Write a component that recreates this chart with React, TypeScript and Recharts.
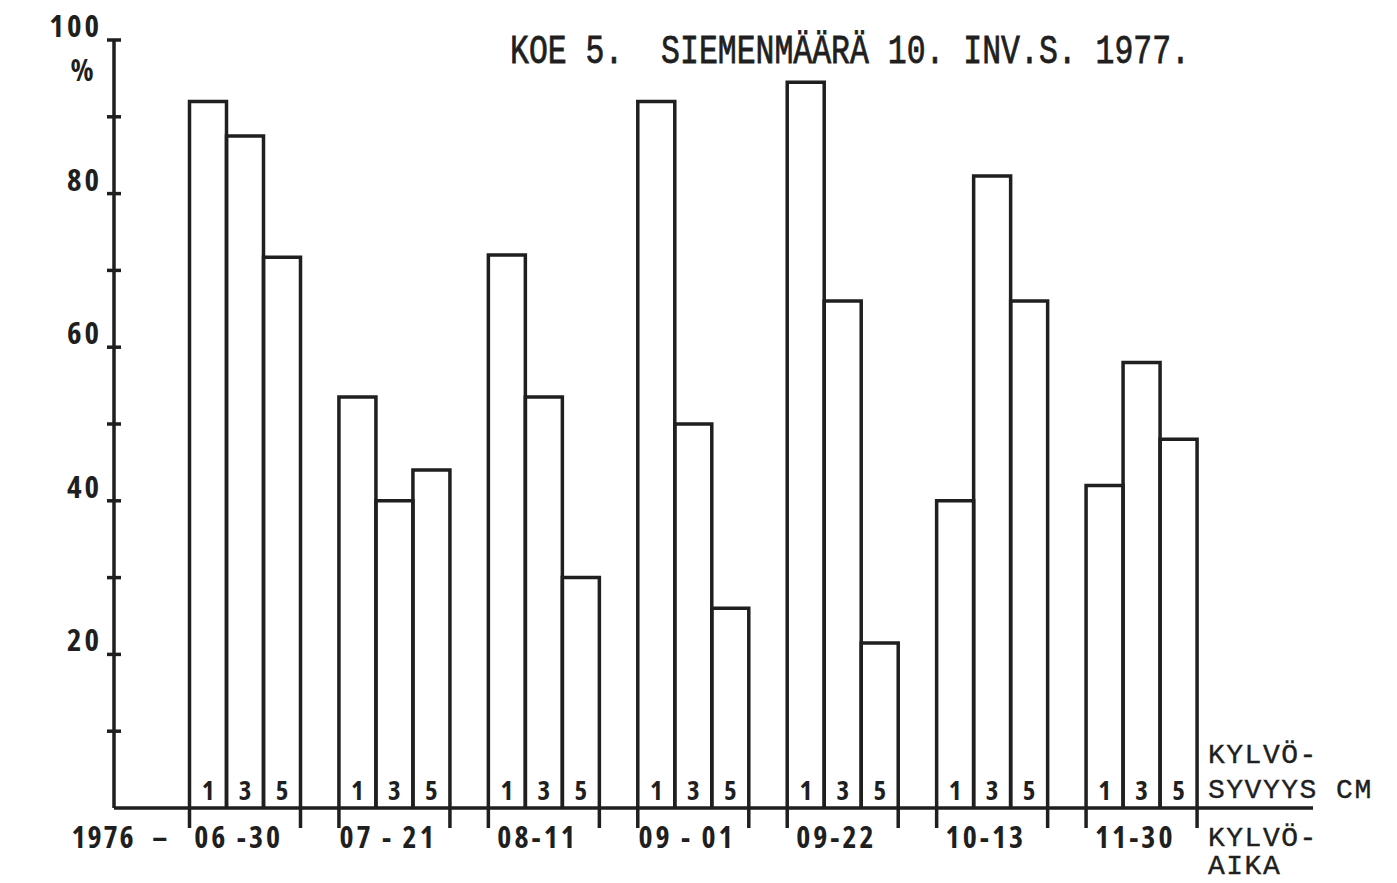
import { Bar, BarChart, Customized, LabelList, XAxis, YAxis } from "recharts";

// sowing dates (1976) and germination % at sowing depths 1, 3 and 5 cm
const dates = ["06 -30", "07 - 21", "08-11", "09 - 01", "09-22", "10-13", "11-30"];
const depth1 = [92, 53.5, 72, 92, 94.5, 40, 42];
const depth3 = [87.5, 40, 53.5, 50, 66, 82.3, 58];
const depth5 = [71.7, 44, 30, 26, 21.5, 66, 48];
const depthLabels = ["1", "3", "5"];
const yTicks = [0, 10, 20, 30, 40, 50, 60, 70, 80, 90, 100];

const data = dates.map((date, i) => ({
  date,
  d1: depth1[i],
  d3: depth3[i],
  d5: depth5[i],
}));

const INK = "#1f1f1f";
const NUM_FONT = "'Open Sans', 'DejaVu Sans', sans-serif";
const TYPE_FONT = "'Liberation Mono', 'DejaVu Sans Mono', monospace";

function OutlineBar(props: any) {
  const { x, y, width, height, edge } = props;
  const bottom = y + height;
  return (
    <g>
      <path
        d={`M${x},${bottom} V${y} H${x + width} V${bottom}`}
        fill="none"
        stroke={INK}
        strokeWidth={3.5}
      />
      {edge === "left" && (
        <line x1={x} x2={x} y1={bottom} y2={bottom + 20} stroke={INK} strokeWidth={3.5} />
      )}
      {edge === "right" && (
        <line x1={x + width} x2={x + width} y1={bottom} y2={bottom + 20} stroke={INK} strokeWidth={3.5} />
      )}
    </g>
  );
}

const numStyle = {
  fontFamily: NUM_FONT,
  fontStretch: "75%",
  fontWeight: 700,
  fill: INK,
} as const;

function YTick(props: any) {
  const { x, y, payload } = props;
  const v = payload.value;
  if (v === 0) return null;
  const ax = x + 12;
  return (
    <g>
      <line x1={ax - 7} x2={ax + 7} y1={y} y2={y} stroke={INK} strokeWidth={3.5} />
      {v % 20 === 0 && (
        <text x={x} y={y} dy={-3} textAnchor="end" fontSize={31} letterSpacing={3} style={numStyle}>
          {v}
        </text>
      )}
      {v === 100 && (
        <text x={x - 20} y={y} dy={41} textAnchor="middle" fontSize={30} style={numStyle}>
          %
        </text>
      )}
    </g>
  );
}

function XTick(props: any) {
  const { x, y, payload, index } = props;
  return (
    <g>
      {index === 0 && (
        <>
          <text x={x - 110} y={y + 40} textAnchor="end" fontSize={30} letterSpacing={2} style={numStyle}>
            1976
          </text>
          <text x={x - 86} y={y + 40} textAnchor="middle" fontSize={30} style={numStyle}>
            –
          </text>
        </>
      )}
      <text x={x - 7} y={y + 40} textAnchor="middle" fontSize={30} letterSpacing={3} style={numStyle} xmlSpace="preserve">
        {payload.value}
      </text>
    </g>
  );
}

function Annotations() {
  const style = { fontFamily: TYPE_FONT, fontSize: 28, letterSpacing: 1.5, fill: INK, stroke: INK, strokeWidth: 0.4 };
  return (
    <g>
      <text
        x={510}
        y={63}
        textLength={680}
        lengthAdjust="spacingAndGlyphs"
        fontFamily={TYPE_FONT}
        fontSize={40}
        fill={INK}
        stroke={INK}
        strokeWidth={0.8}
        xmlSpace="preserve"
      >
        KOE 5.  SIEMENMÄÄRÄ 10. INV.S. 1977.
      </text>
      <text x={1208} y={763} {...style}>KYLVÖ-</text>
      <text x={1208} y={798} {...style} xmlSpace="preserve">SYVYYS CM</text>
      <text x={1208} y={846} {...style}>KYLVÖ-</text>
      <text x={1208} y={874} {...style}>AIKA</text>
    </g>
  );
}

const series = [
  { key: "d1", edge: "left" },
  { key: "d3", edge: "none" },
  { key: "d5", edge: "right" },
];

export default function App() {
  return (
    <div style={{ position: "absolute", left: 0, top: 0, background: "#fff" }}>
      <BarChart
        width={1397}
        height={883}
        data={data}
        margin={{ top: 40, right: 84, bottom: 0, left: 0 }}
        barCategoryGap={18.5}
        barGap={0}
      >
        <XAxis
          dataKey="date"
          height={75}
          padding={{ left: 57, right: 96 }}
          axisLine={{ stroke: INK, strokeWidth: 3.5 }}
          tickLine={false}
          tickSize={0}
          tickMargin={0}
          interval={0}
          tick={<XTick />}
        />
        <YAxis
          width={114}
          domain={[0, 100]}
          ticks={yTicks}
          interval={0}
          axisLine={{ stroke: INK, strokeWidth: 3.5 }}
          tickLine={false}
          tickSize={8}
          tickMargin={4}
          tick={<YTick />}
        />
        {series.map((s, i) => (
          <Bar
            key={s.key}
            dataKey={s.key}
            isAnimationActive={false}
            shape={(p: any) => <OutlineBar {...p} edge={s.edge} />}
          >
            <LabelList
              dataKey={s.key}
              position="insideBottom"
              offset={8}
              formatter={() => depthLabels[i]}
              style={{ fontFamily: NUM_FONT, fontStretch: "75%", fontWeight: 700 }}
              fontSize={27}
              fill={INK}
            />
          </Bar>
        ))}
        <Customized component={Annotations} />
      </BarChart>
    </div>
  );
}
